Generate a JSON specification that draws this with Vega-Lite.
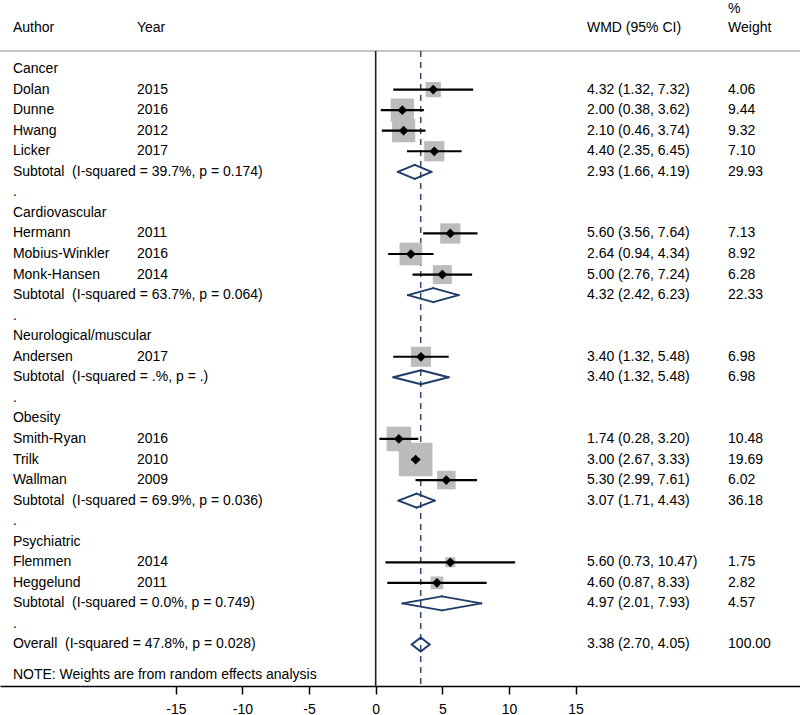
{
  "$schema": "https://vega.github.io/schema/vega-lite/v6.json",
  "width": 800,
  "height": 686,
  "autosize": "none",
  "padding": {"left": 0, "top": 0, "right": 0, "bottom": 29},
  "background": "white",
  "config": {
    "view": {"stroke": null},
    "axisX": {"grid": false, "domainColor": "#000", "domainWidth": 1.5, "tickColor": "#000", "tickWidth": 1.5, "tickSize": 8, "labelFont": "Liberation Sans", "labelFontSize": 14, "labelColor": "#000", "labelPadding": 8, "labelFlush": false, "labelOverlap": false, "title": null, "labelExpr": "replace(datum.label, '\u2212', '-')"}
  },
  "datasets": {
    "rows": [
      {"row": -2.93, "type": "head", "weight_text": "%"},
      {"row": -2, "type": "head", "label": "Author", "year": "Year", "ci_text": "WMD (95% CI)", "weight_text": "Weight"},
      {"row": 0, "type": "group", "label": "Cancer"},
      {"row": 1, "type": "study", "label": "Dolan", "year": "2015", "est": 4.32, "lo": 1.32, "hi": 7.32, "weight": 4.06, "ci_text": "4.32 (1.32, 7.32)", "weight_text": "4.06"},
      {"row": 2, "type": "study", "label": "Dunne", "year": "2016", "est": 2.00, "lo": 0.38, "hi": 3.62, "weight": 9.44, "ci_text": "2.00 (0.38, 3.62)", "weight_text": "9.44"},
      {"row": 3, "type": "study", "label": "Hwang", "year": "2012", "est": 2.10, "lo": 0.46, "hi": 3.74, "weight": 9.32, "ci_text": "2.10 (0.46, 3.74)", "weight_text": "9.32"},
      {"row": 4, "type": "study", "label": "Licker", "year": "2017", "est": 4.40, "lo": 2.35, "hi": 6.45, "weight": 7.10, "ci_text": "4.40 (2.35, 6.45)", "weight_text": "7.10"},
      {"row": 5, "type": "subtotal", "label": "Subtotal\u00a0 (I-squared = 39.7%, p = 0.174)", "est": 2.93, "lo": 1.66, "hi": 4.19, "ci_text": "2.93 (1.66, 4.19)", "weight_text": "29.93"},
      {"row": 6, "type": "blank", "label": "."},
      {"row": 7, "type": "group", "label": "Cardiovascular"},
      {"row": 8, "type": "study", "label": "Hermann", "year": "2011", "est": 5.60, "lo": 3.56, "hi": 7.64, "weight": 7.13, "ci_text": "5.60 (3.56, 7.64)", "weight_text": "7.13"},
      {"row": 9, "type": "study", "label": "Mobius-Winkler", "year": "2016", "est": 2.64, "lo": 0.94, "hi": 4.34, "weight": 8.92, "ci_text": "2.64 (0.94, 4.34)", "weight_text": "8.92"},
      {"row": 10, "type": "study", "label": "Monk-Hansen", "year": "2014", "est": 5.00, "lo": 2.76, "hi": 7.24, "weight": 6.28, "ci_text": "5.00 (2.76, 7.24)", "weight_text": "6.28"},
      {"row": 11, "type": "subtotal", "label": "Subtotal\u00a0 (I-squared = 63.7%, p = 0.064)", "est": 4.32, "lo": 2.42, "hi": 6.23, "ci_text": "4.32 (2.42, 6.23)", "weight_text": "22.33"},
      {"row": 12, "type": "blank", "label": "."},
      {"row": 13, "type": "group", "label": "Neurological/muscular"},
      {"row": 14, "type": "study", "label": "Andersen", "year": "2017", "est": 3.40, "lo": 1.32, "hi": 5.48, "weight": 6.98, "ci_text": "3.40 (1.32, 5.48)", "weight_text": "6.98"},
      {"row": 15, "type": "subtotal", "label": "Subtotal\u00a0 (I-squared = .%, p = .)", "est": 3.40, "lo": 1.32, "hi": 5.48, "ci_text": "3.40 (1.32, 5.48)", "weight_text": "6.98"},
      {"row": 16, "type": "blank", "label": "."},
      {"row": 17, "type": "group", "label": "Obesity"},
      {"row": 18, "type": "study", "label": "Smith-Ryan", "year": "2016", "est": 1.74, "lo": 0.28, "hi": 3.20, "weight": 10.48, "ci_text": "1.74 (0.28, 3.20)", "weight_text": "10.48"},
      {"row": 19, "type": "study", "label": "Trilk", "year": "2010", "est": 3.00, "lo": 2.67, "hi": 3.33, "weight": 19.69, "ci_text": "3.00 (2.67, 3.33)", "weight_text": "19.69"},
      {"row": 20, "type": "study", "label": "Wallman", "year": "2009", "est": 5.30, "lo": 2.99, "hi": 7.61, "weight": 6.02, "ci_text": "5.30 (2.99, 7.61)", "weight_text": "6.02"},
      {"row": 21, "type": "subtotal", "label": "Subtotal\u00a0 (I-squared = 69.9%, p = 0.036)", "est": 3.07, "lo": 1.71, "hi": 4.43, "ci_text": "3.07 (1.71, 4.43)", "weight_text": "36.18"},
      {"row": 22, "type": "blank", "label": "."},
      {"row": 23, "type": "group", "label": "Psychiatric"},
      {"row": 24, "type": "study", "label": "Flemmen", "year": "2014", "est": 5.60, "lo": 0.73, "hi": 10.47, "weight": 1.75, "ci_text": "5.60 (0.73, 10.47)", "weight_text": "1.75"},
      {"row": 25, "type": "study", "label": "Heggelund", "year": "2011", "est": 4.60, "lo": 0.87, "hi": 8.33, "weight": 2.82, "ci_text": "4.60 (0.87, 8.33)", "weight_text": "2.82"},
      {"row": 26, "type": "subtotal", "label": "Subtotal\u00a0 (I-squared = 0.0%, p = 0.749)", "est": 4.97, "lo": 2.01, "hi": 7.93, "ci_text": "4.97 (2.01, 7.93)", "weight_text": "4.57"},
      {"row": 27, "type": "blank", "label": "."},
      {"row": 28, "type": "overall", "label": "Overall\u00a0 (I-squared = 47.8%, p = 0.028)", "est": 3.38, "lo": 2.70, "hi": 4.05, "ci_text": "3.38 (2.70, 4.05)", "weight_text": "100.00"},
      {"row": 29.5, "type": "note", "label": "NOTE: Weights are from random effects analysis"}
    ]
  },
  "data": {"name": "rows"},
  "layer": [
    {
      "data": {"values": [{}]},
      "mark": {"type": "rule", "color": "#c4c4c4", "strokeWidth": 2},
      "encoding": {
        "x": {"datum": -28.2, "scale": {"domain": [-28.2, 31.85], "nice": false, "zero": false}, "axis": {"values": [-15, -10, -5, 0, 5, 10, 15], "title": null}},
        "x2": {"datum": 31.85},
        "y": {"datum": -0.88, "type": "quantitative", "scale": {"domain": [-3.36, 30.02], "reverse": true, "nice": false, "zero": false}, "axis": null}
      }
    },
    {
      "data": {"values": [{}]},
      "mark": {"type": "rule", "color": "#222222", "strokeWidth": 1.6},
      "encoding": {
        "x": {"datum": 0, "scale": {"domain": [-28.2, 31.85], "nice": false, "zero": false}, "axis": {"values": [-15, -10, -5, 0, 5, 10, 15], "title": null}},
        "y": {"datum": -0.88, "type": "quantitative", "scale": {"domain": [-3.36, 30.02], "reverse": true, "nice": false, "zero": false}, "axis": null},
        "y2": {"datum": 30.02}
      }
    },
    {
      "transform": [{"filter": "datum.type === 'overall'"}],
      "mark": {"type": "rule", "color": "#34476f", "strokeWidth": 1.5, "strokeDash": [6, 5]},
      "encoding": {
        "x": {"field": "est", "type": "quantitative", "scale": {"domain": [-28.2, 31.85], "nice": false, "zero": false}, "axis": {"values": [-15, -10, -5, 0, 5, 10, 15], "title": null}},
        "y": {"datum": -0.88, "type": "quantitative", "scale": {"domain": [-3.36, 30.02], "reverse": true, "nice": false, "zero": false}, "axis": null},
        "y2": {"datum": 30.02}
      }
    },
    {
      "transform": [{"filter": "datum.type === 'study'"}],
      "mark": {"type": "point", "shape": "square", "filled": true, "color": "#bcbcbc", "opacity": 1},
      "encoding": {
        "x": {"field": "est", "type": "quantitative", "scale": {"domain": [-28.2, 31.85], "nice": false, "zero": false}, "axis": {"values": [-15, -10, -5, 0, 5, 10, 15], "title": null}},
        "y": {"field": "row", "type": "quantitative", "scale": {"domain": [-3.36, 30.02], "reverse": true, "nice": false, "zero": false}, "axis": null},
        "size": {"field": "weight", "type": "quantitative", "scale": {"domain": [0, 20], "range": [0, 1150], "zero": true}, "legend": null}
      }
    },
    {
      "transform": [{"filter": "datum.type === 'study'"}],
      "mark": {"type": "rule", "color": "#000", "strokeWidth": 2.2},
      "encoding": {
        "x": {"field": "lo", "type": "quantitative", "scale": {"domain": [-28.2, 31.85], "nice": false, "zero": false}, "axis": {"values": [-15, -10, -5, 0, 5, 10, 15], "title": null}},
        "x2": {"field": "hi"},
        "y": {"field": "row", "type": "quantitative", "scale": {"domain": [-3.36, 30.02], "reverse": true, "nice": false, "zero": false}, "axis": null}
      }
    },
    {
      "transform": [{"filter": "datum.type === 'study'"}],
      "mark": {"type": "point", "shape": "diamond", "filled": true, "color": "#000", "opacity": 1, "size": 95},
      "encoding": {
        "x": {"field": "est", "type": "quantitative", "scale": {"domain": [-28.2, 31.85], "nice": false, "zero": false}, "axis": {"values": [-15, -10, -5, 0, 5, 10, 15], "title": null}},
        "y": {"field": "row", "type": "quantitative", "scale": {"domain": [-3.36, 30.02], "reverse": true, "nice": false, "zero": false}, "axis": null}
      }
    },
    {
      "transform": [{"filter": "datum.type === 'subtotal' || datum.type === 'overall'"}],
      "mark": {"type": "rule", "color": "#1f3b68", "strokeWidth": 2, "strokeCap": "round", "y2Offset": -7},
      "encoding": {
        "x": {"field": "lo", "type": "quantitative", "scale": {"domain": [-28.2, 31.85], "nice": false, "zero": false}, "axis": {"values": [-15, -10, -5, 0, 5, 10, 15], "title": null}},
        "x2": {"field": "est"},
        "y": {"field": "row", "type": "quantitative", "scale": {"domain": [-3.36, 30.02], "reverse": true, "nice": false, "zero": false}, "axis": null},
        "y2": {"field": "row"}
      }
    },
    {
      "transform": [{"filter": "datum.type === 'subtotal' || datum.type === 'overall'"}],
      "mark": {"type": "rule", "color": "#1f3b68", "strokeWidth": 2, "strokeCap": "round", "y2Offset": 7},
      "encoding": {
        "x": {"field": "lo", "type": "quantitative", "scale": {"domain": [-28.2, 31.85], "nice": false, "zero": false}, "axis": {"values": [-15, -10, -5, 0, 5, 10, 15], "title": null}},
        "x2": {"field": "est"},
        "y": {"field": "row", "type": "quantitative", "scale": {"domain": [-3.36, 30.02], "reverse": true, "nice": false, "zero": false}, "axis": null},
        "y2": {"field": "row"}
      }
    },
    {
      "transform": [{"filter": "datum.type === 'subtotal' || datum.type === 'overall'"}],
      "mark": {"type": "rule", "color": "#1f3b68", "strokeWidth": 2, "strokeCap": "round", "yOffset": -7},
      "encoding": {
        "x": {"field": "est", "type": "quantitative", "scale": {"domain": [-28.2, 31.85], "nice": false, "zero": false}, "axis": {"values": [-15, -10, -5, 0, 5, 10, 15], "title": null}},
        "x2": {"field": "hi"},
        "y": {"field": "row", "type": "quantitative", "scale": {"domain": [-3.36, 30.02], "reverse": true, "nice": false, "zero": false}, "axis": null},
        "y2": {"field": "row"}
      }
    },
    {
      "transform": [{"filter": "datum.type === 'subtotal' || datum.type === 'overall'"}],
      "mark": {"type": "rule", "color": "#1f3b68", "strokeWidth": 2, "strokeCap": "round", "yOffset": 7},
      "encoding": {
        "x": {"field": "est", "type": "quantitative", "scale": {"domain": [-28.2, 31.85], "nice": false, "zero": false}, "axis": {"values": [-15, -10, -5, 0, 5, 10, 15], "title": null}},
        "x2": {"field": "hi"},
        "y": {"field": "row", "type": "quantitative", "scale": {"domain": [-3.36, 30.02], "reverse": true, "nice": false, "zero": false}, "axis": null},
        "y2": {"field": "row"}
      }
    },
    {
      "transform": [{"filter": "isValid(datum.label)"}],
      "mark": {"type": "text", "align": "left", "baseline": "middle", "font": "Liberation Sans", "fontSize": 14, "color": "#000"},
      "encoding": {
        "x": {"datum": -27.23, "scale": {"domain": [-28.2, 31.85], "nice": false, "zero": false}, "axis": {"values": [-15, -10, -5, 0, 5, 10, 15], "title": null}},
        "y": {"field": "row", "type": "quantitative", "scale": {"domain": [-3.36, 30.02], "reverse": true, "nice": false, "zero": false}, "axis": null},
        "text": {"field": "label", "type": "nominal"}
      }
    },
    {
      "transform": [{"filter": "isValid(datum.year)"}],
      "mark": {"type": "text", "align": "left", "baseline": "middle", "font": "Liberation Sans", "fontSize": 14, "color": "#000"},
      "encoding": {
        "x": {"datum": -17.92, "scale": {"domain": [-28.2, 31.85], "nice": false, "zero": false}, "axis": {"values": [-15, -10, -5, 0, 5, 10, 15], "title": null}},
        "y": {"field": "row", "type": "quantitative", "scale": {"domain": [-3.36, 30.02], "reverse": true, "nice": false, "zero": false}, "axis": null},
        "text": {"field": "year", "type": "nominal"}
      }
    },
    {
      "transform": [{"filter": "isValid(datum.ci_text)"}],
      "mark": {"type": "text", "align": "left", "baseline": "middle", "font": "Liberation Sans", "fontSize": 14, "color": "#000"},
      "encoding": {
        "x": {"datum": 15.86, "scale": {"domain": [-28.2, 31.85], "nice": false, "zero": false}, "axis": {"values": [-15, -10, -5, 0, 5, 10, 15], "title": null}},
        "y": {"field": "row", "type": "quantitative", "scale": {"domain": [-3.36, 30.02], "reverse": true, "nice": false, "zero": false}, "axis": null},
        "text": {"field": "ci_text", "type": "nominal"}
      }
    },
    {
      "transform": [{"filter": "isValid(datum.weight_text)"}],
      "mark": {"type": "text", "align": "left", "baseline": "middle", "font": "Liberation Sans", "fontSize": 14, "color": "#000"},
      "encoding": {
        "x": {"datum": 26.45, "scale": {"domain": [-28.2, 31.85], "nice": false, "zero": false}, "axis": {"values": [-15, -10, -5, 0, 5, 10, 15], "title": null}},
        "y": {"field": "row", "type": "quantitative", "scale": {"domain": [-3.36, 30.02], "reverse": true, "nice": false, "zero": false}, "axis": null},
        "text": {"field": "weight_text", "type": "nominal"}
      }
    }
  ]
}
